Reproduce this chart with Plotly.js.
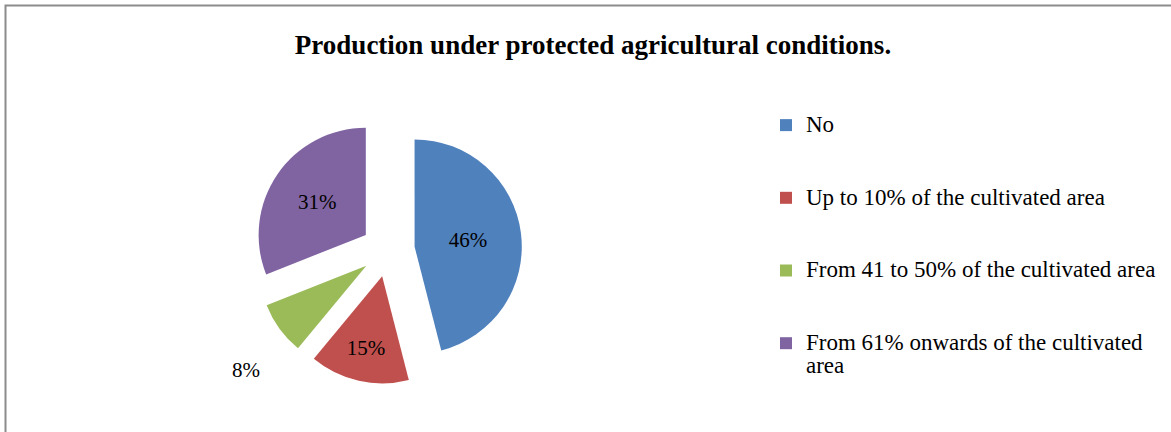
<!DOCTYPE html>
<html>
<head>
<meta charset="utf-8">
<script src="https://cdn.plot.ly/plotly-3.0.1.min.js"></script>
<style>
html,body{margin:0;padding:0;background:#fff;}
#chart{width:1171px;height:432px;}
</style>
</head>
<body>
<div id="chart"></div>
<script>
var categories = [
  "No",
  "Up to 10% of the cultivated area",
  "From 41 to 50% of the cultivated area",
  "From 61% onwards of the cultivated area"
];
var shares = [46, 15, 8, 31];
var sliceColors = ["#4F81BD", "#C0504D", "#9BBB59", "#8064A2"];
var textPositions = ["inside", "inside", "outside", "inside"];

var W = 1171, H = 432;
var SERIF = "'Liberation Serif', 'Times New Roman', serif";
var LEG_PX = 23;

// legend labels: pad items with blank lines to reproduce the wide spacing
var legendLabels = categories.map(function (c, i) {
  var lines = (i === categories.length - 1)
    ? ["From 61% onwards of the cultivated", "area"]
    : [c];
  var lab = lines.map(function (l) {
    return "<span style='font-size:" + LEG_PX + "px'>" + l + "</span>";
  }).join("<br>");
  if (i < categories.length - 1) lab += "<br>&nbsp;<br>&nbsp;";
  return lab;
});

// the small outside label sits lower, below the slice
var textTemplates = textPositions.map(function (p) {
  return p === "outside" ? "&nbsp;<br>&nbsp;<br>%{percent:.0%}" : "%{percent:.0%}";
});

var trace = {
  type: "pie",
  labels: legendLabels,
  values: shares,
  sort: false,
  direction: "clockwise",
  rotation: 0,
  pull: [0.25, 0.25, 0.25, 0.25],
  marker: {colors: sliceColors, line: {width: 0}},
  texttemplate: textTemplates,
  textposition: textPositions,
  insidetextorientation: "horizontal",
  textfont: {family: SERIF, size: 21, color: "#000"},
  hoverinfo: "label+percent",
  domain: {x: [254 / W, 522 / W], y: [1 - 384 / H, 1 - 116 / H]}
};

var layout = {
  width: W,
  height: H,
  margin: {l: 0, r: 0, t: 0, b: 0},
  paper_bgcolor: "#fff",
  title: {
    text: "<b>Production under protected agricultural conditions.</b>",
    font: {family: SERIF, size: 27, color: "#000"},
    x: 593 / W,
    xanchor: "center",
    xref: "paper",
    y: 1 - 45 / H,
    yanchor: "middle",
    yref: "container"
  },
  showlegend: true,
  legend: {
    x: 766 / W,
    xanchor: "left",
    y: 1 - 107 / H,
    yanchor: "top",
    valign: "top",
    font: {family: SERIF, size: 17.87, color: "#000"},
    bgcolor: "rgba(0,0,0,0)",
    borderwidth: 0
  },
  shapes: [{
    type: "rect",
    xref: "paper", yref: "paper",
    x0: 5.5 / W, x1: 1.02,
    y0: -0.02, y1: 1 - 5.5 / H,
    line: {color: "#8c8c8c", width: 2},
    fillcolor: "rgba(0,0,0,0)"
  }]
};

Plotly.newPlot("chart", [trace], layout, {displayModeBar: false, staticPlot: true});
</script>
</body>
</html>
